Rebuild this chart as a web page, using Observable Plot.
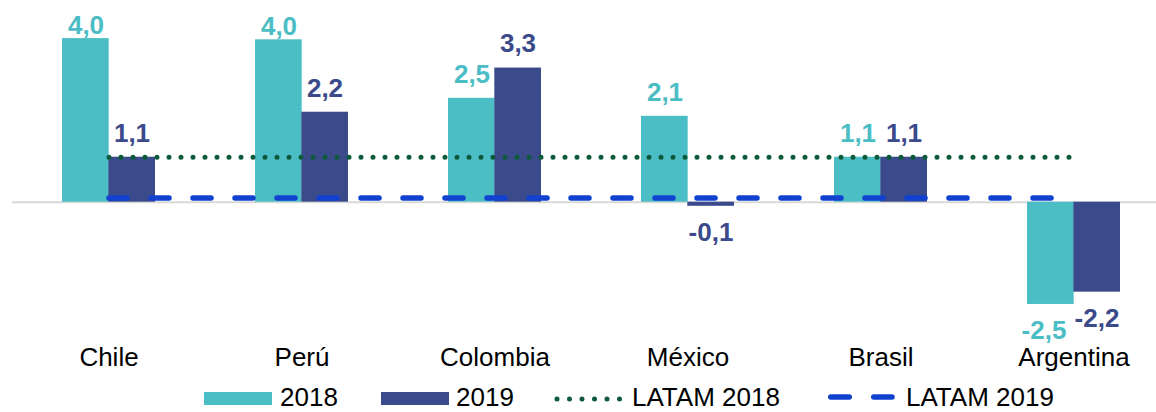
<!DOCTYPE html>
<html><head><meta charset="utf-8">
<script src="https://cdn.jsdelivr.net/npm/d3@7"></script>
<script src="https://cdn.jsdelivr.net/npm/@observablehq/plot@0.6"></script>
<style>
body{margin:0;background:#fff;font-family:"Liberation Sans",Arial,sans-serif;}
#wrap{position:relative;width:1156px;height:412px;overflow:hidden;background:#fff;}
#chart{position:absolute;left:0;top:0;}
.lg{position:absolute;font-size:26px;line-height:20px;color:#000;white-space:nowrap;}
.sw{position:absolute;}
</style></head><body>
<div id="wrap"><div id="chart"></div><div id="legend"></div></div>
<script>
// ---- data ----
const countries = ["Chile", "Perú", "Colombia", "México", "Brasil", "Argentina"];
const values2018 = [4.0, 3.97, 2.54, 2.1, 1.1, -2.5];
const values2019 = [1.1, 2.2, 3.28, -0.1, 1.1, -2.2];
const latam2018 = 1.1;
const latam2019 = 0.1;
const seriesNames = ["2018", "2019", "LATAM 2018", "LATAM 2019"];

// ---- styles ----
const C2018 = "#4bbdc4", C2019 = "#3b4a8a", CL18 = "#0d5a3b", CL19 = "#1142cf";
const font = '"Liberation Sans", Arial, sans-serif';

const d2018 = countries.map((c, i) => ({country: c, value: values2018[i]}));
const d2019 = countries.map((c, i) => ({country: c, value: values2019[i]}));
const dL18 = countries.map(c => ({country: c, value: latam2018}));
const dL19 = countries.map(c => ({country: c, value: latam2019}));
const fmt = v => v.toFixed(1).replace(".", ",");
const half = 46.32;

function labels(data, color, dx, negDx) {
  const base = {x: "country", y: "value", text: d => fmt(d.value), fill: color,
    fontWeight: "bold", fontSize: 26};
  return [
    Plot.text(data.filter(d => d.value >= 0 && d.value < 3.5), {...base, dx, dy: -24}),
    Plot.text(data.filter(d => d.value >= 3.5), {...base, dx, dy: -13}),
    Plot.text(data.filter(d => d.value < 0), {...base, dx: negDx, dy: 26})
  ];
}

const chart = Plot.plot({
  width: 1156,
  height: 385,
  marginLeft: 12,
  marginRight: 0,
  marginTop: 0,
  marginBottom: 38,
  style: {fontFamily: font, fontSize: "26px", color: "black", background: "white", overflow: "visible"},
  x: {domain: countries, range: [11.5, 1169.5], paddingInner: 0.52, paddingOuter: 0.26, label: null},
  y: {domain: [-2.5, 4], range: [303.95, 38.1], axis: null},
  marks: [
    Plot.ruleY([0], {stroke: "#d9d9d9", strokeWidth: 2}),
    Plot.barY(d2018, {x: "country", y: "value", fill: C2018, insetRight: half}),
    Plot.barY(d2019, {x: "country", y: "value", fill: C2019, insetLeft: half}),
    Plot.lineY(dL18, {x: "country", y: "value", stroke: CL18, strokeWidth: 5,
      strokeDasharray: "0,12", strokeLinecap: "round"}),
    Plot.lineY(dL19, {x: "country", y: "value", stroke: CL19, strokeWidth: 5.5,
      strokeDasharray: "18,24", strokeLinecap: "round"}),
    ...labels(d2018, C2018, -23, -30),
    ...labels(d2019, C2019, 23, 23),
    Plot.axisX({anchor: "bottom", tickSize: 0, tickPadding: 0, fontSize: 26, fill: "black", label: null})
  ]
});
document.getElementById("chart").appendChild(chart);

// ---- legend ----
const lg = document.getElementById("legend");
lg.innerHTML = `
<div class="sw" style="left:204px;top:392px;width:68px;height:13px;background:${C2018}"></div>
<div class="lg" style="left:280px;top:387px">${seriesNames[0]}</div>
<div class="sw" style="left:381px;top:392px;width:68px;height:13px;background:${C2019}"></div>
<div class="lg" style="left:456px;top:387px">${seriesNames[1]}</div>
<svg class="sw" style="left:552px;top:393px" width="74" height="12">
  <line x1="5" x2="69" y1="6" y2="6" stroke="${CL18}" stroke-width="5" stroke-linecap="round" stroke-dasharray="0,12.5"/>
</svg>
<div class="lg" style="left:632px;top:387px">${seriesNames[2]}</div>
<svg class="sw" style="left:826px;top:391px" width="72" height="12">
  <line x1="4.75" x2="66" y1="6" y2="6" stroke="${CL19}" stroke-width="5.5" stroke-linecap="round" stroke-dasharray="18.5,24.5"/>
</svg>
<div class="lg" style="left:906px;top:387px">${seriesNames[3]}</div>`;
</script>
</body></html>
